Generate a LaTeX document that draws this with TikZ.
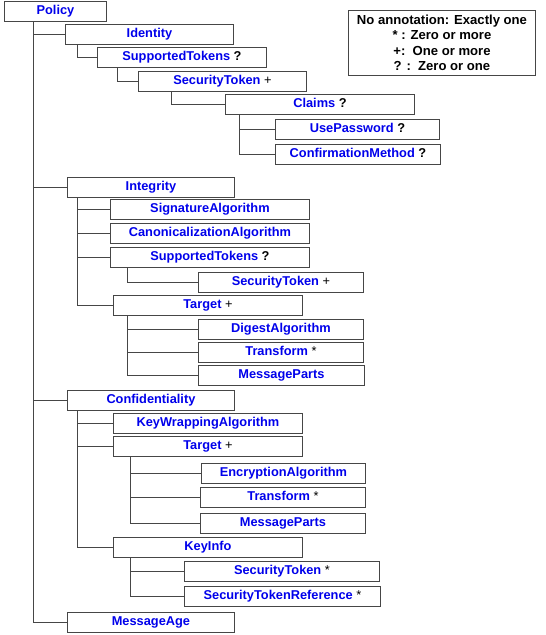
\documentclass[tikz,border=0pt]{standalone}
\usepackage{fontspec}
\setmainfont{Liberation Sans}
\definecolor{txtblue}{RGB}{0,0,235}
\definecolor{linegray}{RGB}{70,70,70}
\newcommand\mkq[1]{\textcolor{black}{#1}}
\newcommand\mkr[1]{\textcolor{black}{\mdseries #1}}
\begin{document}
\begin{tikzpicture}[x=1pt,y=-1pt,
  box/.style={draw=linegray, line width=0.9pt, anchor=north west, minimum height=20pt,
    inner sep=0pt, text height=12.8pt, text depth=7.2pt, text=txtblue,
    font=\fontsize{12.8}{15}\selectfont\bfseries},
  conn/.style={draw=linegray, line width=0.9pt},
  legendbox/.style={draw=linegray, line width=0.9pt, anchor=north west, minimum width=187pt,
    minimum height=65pt, inner sep=0pt, align=center,
    font=\fontsize{13.1}{15.4}\selectfont\bfseries}]
\useasboundingbox (0,0) rectangle (546,635);
\fill[white] (0,0) rectangle (546,635);

\node[box, minimum width=102] (policy) at (4,1) {Policy};
\node[box, minimum width=168] (identity) at (65,24) {Identity};
\node[box, minimum width=169] (suptok1) at (97,47) {SupportedTokens \mkq{?}};
\node[box, minimum width=168] (sectok1) at (138,71) {SecurityToken \mkr{+}};
\node[box, minimum width=189] (claims) at (225,94) {Claims \mkq{?}};
\node[box, minimum width=164] (usepwd) at (275,119) {UsePassword \mkq{?}};
\node[box, minimum width=165] (confmeth) at (275,144) {ConfirmationMethod \mkq{?}};

\node[legendbox] (legend) at (348,10) {No annotation: Exactly one\\ * : Zero or more\\ +:\ \ One or more\\ ? :\ \ Zero or one};

\node[box, minimum width=167] (integrity) at (67,177) {Integrity};
\node[box, minimum width=199] (sigalg) at (110,199) {SignatureAlgorithm};
\node[box, minimum width=199] (canonalg) at (110,223) {CanonicalizationAlgorithm};
\node[box, minimum width=199] (suptok2) at (110,247) {SupportedTokens \mkq{?}};
\node[box, minimum width=165] (sectok2) at (198,272) {SecurityToken \mkr{+}};
\node[box, minimum width=189] (target1) at (113,295) {Target \mkr{+}};
\node[box, minimum width=165] (digest) at (198,319) {DigestAlgorithm};
\node[box, minimum width=165] (transform1) at (198,342) {Transform \mkr{*}};
\node[box, minimum width=166] (msgparts1) at (198,365) {MessageParts};

\node[box, minimum width=167] (conf) at (67,390) {Confidentiality};
\node[box, minimum width=189] (kwa) at (113,413) {KeyWrappingAlgorithm};
\node[box, minimum width=189] (target2) at (113,436) {Target \mkr{+}};
\node[box, minimum width=164] (encalg) at (201,463) {EncryptionAlgorithm};
\node[box, minimum width=165] (transform2) at (200,487) {Transform \mkr{*}};
\node[box, minimum width=165] (msgparts2) at (200,513) {MessageParts};
\node[box, minimum width=189] (keyinfo) at (113,537) {KeyInfo};
\node[box, minimum width=195] (sectok3) at (184,561) {SecurityToken \mkr{*}};
\node[box, minimum width=196] (stref) at (184,586) {SecurityTokenReference \mkr{*}};

\node[box, minimum width=167] (msgage) at (67,612) {MessageAge};

% connectors
\foreach \c in {identity,integrity,conf,msgage}
  \draw[conn] ([xshift=29pt]policy.south west) |- (\c.west);
\draw[conn] ([xshift=12pt]identity.south west) |- (suptok1.west);
\draw[conn] ([xshift=20pt]suptok1.south west) |- (sectok1.west);
\draw[conn] ([xshift=33pt]sectok1.south west) |- (claims.west);
\foreach \c in {usepwd,confmeth}
  \draw[conn] ([xshift=14pt]claims.south west) |- (\c.west);
\foreach \c in {sigalg,canonalg,suptok2,target1}
  \draw[conn] ([xshift=10pt]integrity.south west) |- (\c.west);
\draw[conn] ([xshift=17pt]suptok2.south west) |- (sectok2.west);
\foreach \c in {digest,transform1,msgparts1}
  \draw[conn] ([xshift=14pt]target1.south west) |- (\c.west);
\foreach \c in {kwa,target2,keyinfo}
  \draw[conn] ([xshift=10pt]conf.south west) |- (\c.west);
\foreach \c in {encalg,transform2,msgparts2}
  \draw[conn] ([xshift=17pt]target2.south west) |- (\c.west);
\foreach \c in {sectok3,stref}
  \draw[conn] ([xshift=17pt]keyinfo.south west) |- (\c.west);
\end{tikzpicture}
\end{document}
